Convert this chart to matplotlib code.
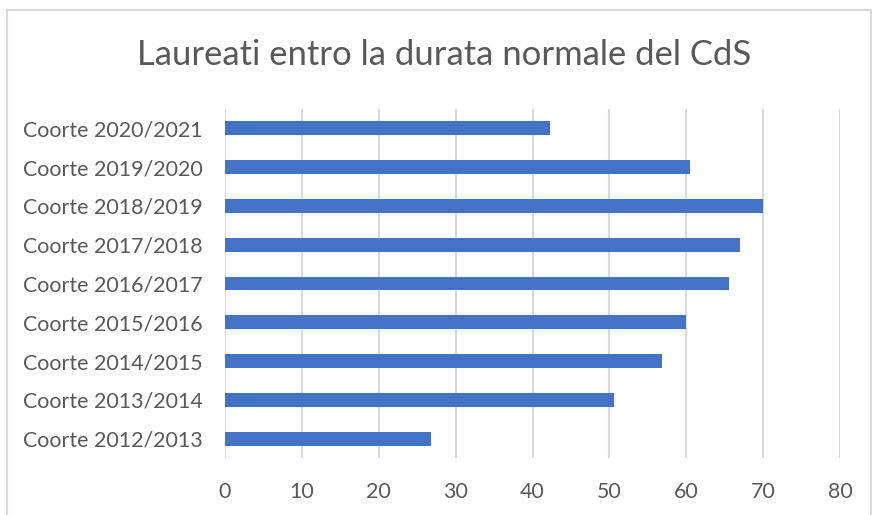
import matplotlib
matplotlib.use('Agg')
import matplotlib.pyplot as plt
from matplotlib.patches import Rectangle

categories = ['Coorte 2012/2013', 'Coorte 2013/2014', 'Coorte 2014/2015',
              'Coorte 2015/2016', 'Coorte 2016/2017', 'Coorte 2017/2018',
              'Coorte 2018/2019', 'Coorte 2019/2020', 'Coorte 2020/2021']
values = [26.8, 50.6, 56.9, 60.0, 65.5, 67.0, 70.0, 60.5, 42.3]
x_ticks = [0, 10, 20, 30, 40, 50, 60, 70, 80]

bar_color = '#4472C4'
text_color = '#595959'
grid_color = '#d9d9d9'

plt.rcParams['font.family'] = ['Lato', 'DejaVu Sans']

W, H = 872, 515
fig = plt.figure(figsize=(W / 100, H / 100), dpi=100)

# outer chart border (bottom runs off the image)
fig.patches.append(Rectangle((7 / W, -0.05), (871 - 7) / W, (H - 10) / H + 0.05,
                             transform=fig.transFigure, fill=False,
                             edgecolor=grid_color, linewidth=1.5))

left, right, top, bottom = 225, 840, 109, 458
ax = fig.add_axes([left / W, 1 - bottom / H, (right - left) / W, (bottom - top) / H])

ax.barh(range(len(categories)), values, height=0.36, color=bar_color, zorder=3)
ax.set_xlim(0, 80)
ax.set_ylim(-0.5, len(categories) - 0.5)
ax.set_xticks(x_ticks)
ax.set_yticks(range(len(categories)))
ax.set_yticklabels(categories)
ax.grid(axis='x', color=grid_color, linewidth=1.5, zorder=0)
for s in ax.spines.values():
    s.set_visible(False)
ax.tick_params(length=0, labelsize=15.4, labelcolor=text_color)
ax.tick_params(axis='x', pad=17)
ax.tick_params(axis='y', pad=16)

fig.text(444 / W, 1 - 55 / H,
         'Laureati entro la durata normale del CdS',
         ha='center', va='center', fontsize=24.9, color=text_color)

fig.savefig('out.png', dpi=100)
